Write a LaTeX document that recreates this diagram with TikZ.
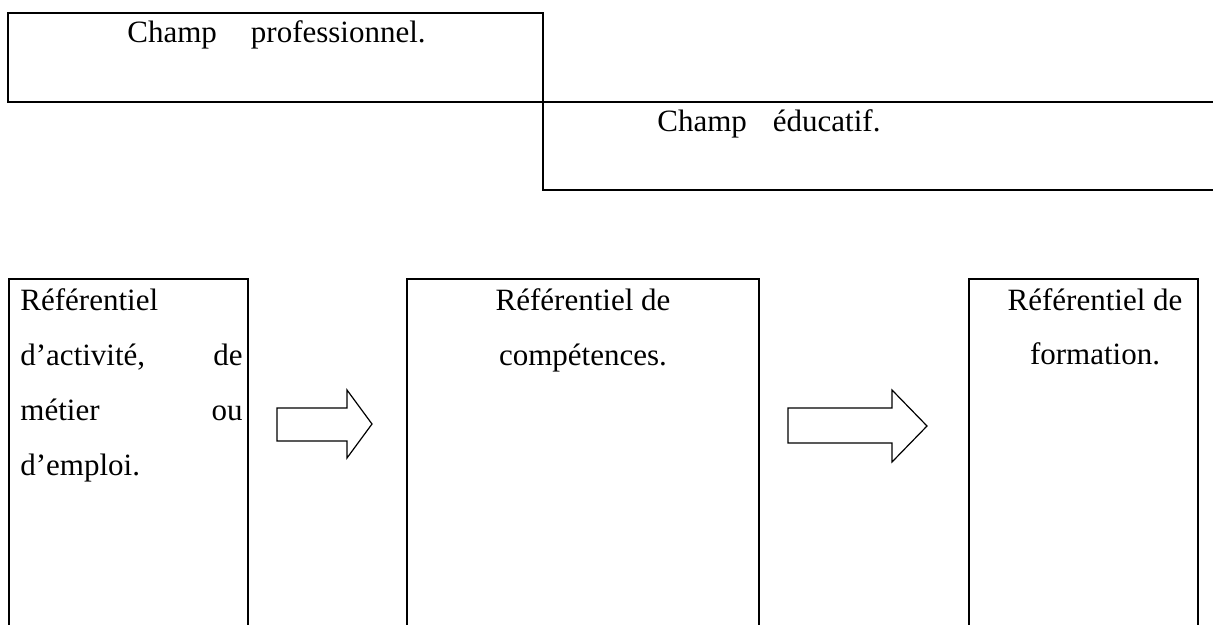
\documentclass[tikz,border=0pt]{standalone}
\usepackage{fontspec}
\setmainfont{Liberation Serif}
\begin{document}
\begin{tikzpicture}[x=0.5pt,y=-0.5pt,
  boxline/.style={line width=1pt,line cap=rect},
  blockarrow/.style={draw,line width=0.6pt,fill=white,line join=miter},
  txt/.style={inner sep=0pt,font=\fontsize{15.5}{18}\selectfont},
  lefttxt/.style={txt,anchor=base west},
  righttxt/.style={txt,anchor=base east},
  midtxt/.style={txt,anchor=base}]
\useasboundingbox[fill=white] (0,0) rectangle (1213,625);

% upper band: professional field and educational field
\draw[boxline] (8,102) -- (8,13) -- (543,13) -- (543,190) -- (1213,190);
\draw[boxline] (8,102) -- (1213,102);
\node[lefttxt] (pro) at (127,43) {Champ\hspace{17pt}professionnel.};
\node[lefttxt] (edu) at (657,132) {Champ\hspace{13pt}éducatif.};

% the three frames of reference (open at the bottom)
\draw[boxline] (9,625) -- (9,279) -- (248,279) -- (248,625);
\draw[boxline] (407,625) -- (407,279) -- (759,279) -- (759,625);
\draw[boxline] (969,625) -- (969,279) -- (1198,279) -- (1198,625);

% activity / job frame, justified lines
\node[lefttxt]  (a1)  at (20,310)  {Référentiel};
\node[lefttxt]  (a2)  at (20,365)  {d’activité,};
\node[righttxt] (a2r) at (243,365) {de};
\node[lefttxt]  (a3)  at (20,420)  {métier};
\node[righttxt] (a3r) at (243,420) {ou};
\node[lefttxt]  (a4)  at (20,475)  {d’emploi.};

% competences frame
\node[midtxt] (c1) at (583,310) {Référentiel de};
\node[midtxt] (c2) at (583,365) {compétences.};

% training frame
\node[midtxt] (f1) at (1095,310) {Référentiel de};
\node[midtxt] (f2) at (1095,364) {formation.};

% block arrows between the frames
\draw[blockarrow] (277,408) -- (347,408) -- (347,390) -- (372,424)
  -- (347,458) -- (347,441) -- (277,441) -- cycle;
\draw[blockarrow] (788,408) -- (892,408) -- (892,390) -- (927,426)
  -- (892,462) -- (892,443) -- (788,443) -- cycle;
\end{tikzpicture}
\end{document}
